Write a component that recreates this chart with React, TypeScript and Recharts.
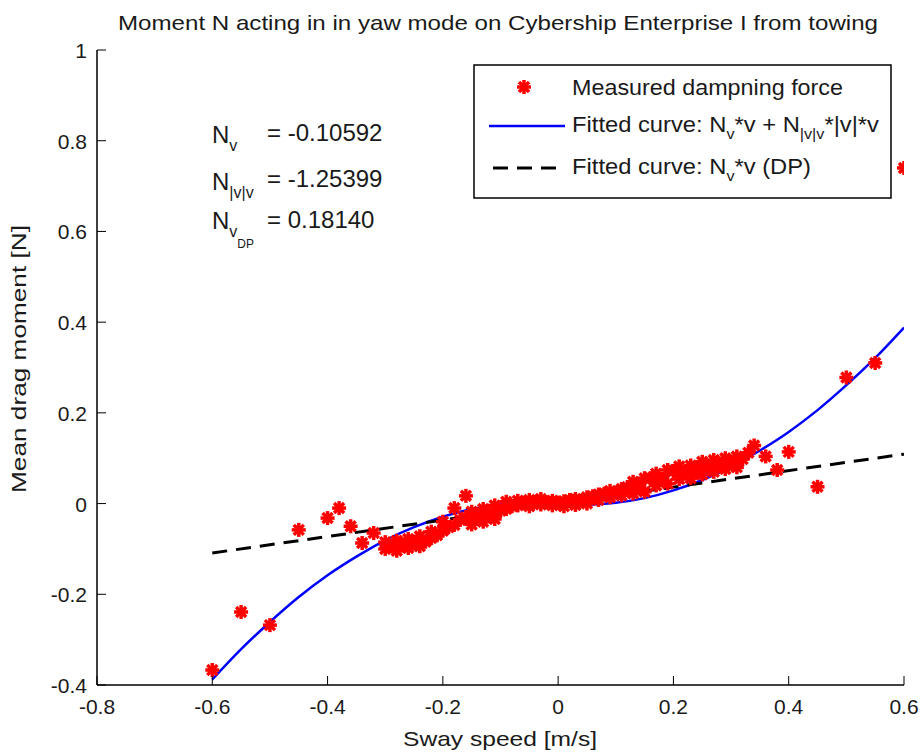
import { ComposedChart, Line, Scatter, XAxis, YAxis } from 'recharts';

const X_TICKS = [-0.8, -0.6, -0.4, -0.2, 0, 0.2, 0.4, 0.6];
const Y_TICKS = [-0.4, -0.2, 0, 0.2, 0.4, 0.6, 0.8, 1];

// sway speed [m/s], mean drag moment [N]
const measured: [number, number][] = [
  [-0.6, -0.367], [-0.55, -0.239], [-0.5, -0.268], [-0.45, -0.058],
  [-0.4, -0.032], [-0.38, -0.01], [-0.36, -0.05], [-0.34, -0.087],
  [-0.32, -0.065], [-0.3, -0.1], [-0.3, -0.085], [-0.29, -0.094],
  [-0.28, -0.104], [-0.28, -0.082], [-0.27, -0.092], [-0.26, -0.098],
  [-0.26, -0.078], [-0.25, -0.088], [-0.24, -0.094], [-0.24, -0.072],
  [-0.23, -0.084], [-0.22, -0.076], [-0.22, -0.062], [-0.21, -0.07],
  [-0.2, -0.06], [-0.2, -0.04], [-0.19, -0.052], [-0.18, -0.047],
  [-0.18, -0.01], [-0.17, -0.036], [-0.16, 0.017], [-0.16, -0.03],
  [-0.15, -0.046], [-0.15, -0.018], [-0.14, -0.028], [-0.13, -0.04],
  [-0.13, -0.012], [-0.12, -0.024], [-0.11, -0.034], [-0.11, -0.004],
  [-0.1, -0.016], [-0.09, -0.012], [-0.09, 0.004], [-0.08, -0.006],
  [-0.07, 0.006], [-0.07, -0.004], [-0.06, 0.002], [-0.05, 0.008],
  [-0.05, -0.006], [-0.04, 0.004], [-0.03, -0.002], [-0.03, 0.01],
  [-0.02, 0.003], [-0.01, 0.006], [-0.01, -0.004], [0, 0.002],
  [0.01, 0.005], [0.01, -0.006], [0.02, 0.008], [0.03, -0.003],
  [0.03, 0.01], [0.04, 0.006], [0.05, 0.014], [0.05, 0],
  [0.06, 0.016], [0.07, 0.008], [0.07, 0.02], [0.08, 0.022],
  [0.09, 0.014], [0.09, 0.028], [0.1, 0.024], [0.11, 0.032],
  [0.11, 0.018], [0.12, 0.036], [0.13, 0.022], [0.13, 0.048],
  [0.14, 0.038], [0.15, 0.056], [0.15, 0.026], [0.16, 0.056],
  [0.17, 0.04], [0.17, 0.066], [0.18, 0.054], [0.19, 0.074],
  [0.19, 0.044], [0.2, 0.072], [0.21, 0.054], [0.21, 0.082],
  [0.22, 0.068], [0.23, 0.084], [0.23, 0.056], [0.24, 0.074],
  [0.25, 0.092], [0.25, 0.064], [0.26, 0.08], [0.27, 0.07],
  [0.27, 0.096], [0.28, 0.086], [0.29, 0.076], [0.29, 0.1],
  [0.3, 0.092], [0.31, 0.104], [0.31, 0.08], [0.32, 0.098],
  [0.33, 0.112], [0.34, 0.128], [0.36, 0.104], [0.38, 0.074],
  [0.4, 0.114], [0.45, 0.037], [0.5, 0.278], [0.55, 0.31],
  [0.6, 0.74],
];

// fitted Nv*v + N|v|v*|v|*v curve
const fitSpeed = [
  -0.6, -0.55, -0.5, -0.45, -0.4, -0.35, -0.3, -0.25, -0.2, -0.15, -0.1, -0.05, 0,
  0.05, 0.1, 0.15, 0.2, 0.25, 0.3, 0.35, 0.4, 0.45, 0.5, 0.55, 0.6,
];
const fitMoment = [
  -0.388, -0.321, -0.261, -0.206, -0.158, -0.117, -0.081, -0.052, -0.029, -0.012, -0.002, 0.002, 0,
  -0.002, 0.002, 0.012, 0.029, 0.052, 0.081, 0.117, 0.158, 0.206, 0.261, 0.321, 0.388,
];

// linear DP fit
const dpSpeed = [-0.6, 0.6];
const dpMoment = [-0.109, 0.109];

const coeffs = ['= -0.10592', '= -1.25399', '= 0.18140'];

const measuredData = measured.map(([x, y]) => ({ x, y }));
const fitData = fitSpeed.map((x, i) => ({ x, y: fitMoment[i] }));
const dpData = dpSpeed.map((x, i) => ({ x, y: dpMoment[i] }));

const FONT = '"Liberation Sans", Arial, sans-serif';
const TEXT = '#1a1a1a';
const TICK = 9;

const Star = ({ cx, cy }: any) => (
  <g stroke="#ff0000" strokeWidth={3.5}>
    <line x1={cx - 7} y1={cy} x2={cx + 7} y2={cy} />
    <line x1={cx} y1={cy - 7} x2={cx} y2={cy + 7} />
    <line x1={cx - 5} y1={cy - 5} x2={cx + 5} y2={cy + 5} />
    <line x1={cx - 5} y1={cy + 5} x2={cx + 5} y2={cy - 5} />
  </g>
);

const BottomTick = ({ x, y, payload }: any) => (
  <g>
    <line x1={x} y1={y} x2={x} y2={y - TICK} stroke="#000" />
    <text x={x} y={y + 29} textAnchor="middle" fontSize={21} fontFamily={FONT} fill={TEXT}>
      {String(payload.value)}
    </text>
  </g>
);

const LeftTick = ({ x, y, payload }: any) => (
  <g>
    <line x1={x} y1={y} x2={x + TICK} y2={y} stroke="#000" />
    <text x={x - 10} y={y + 8} textAnchor="end" fontSize={21} fontFamily={FONT} fill={TEXT}>
      {String(payload.value)}
    </text>
  </g>
);

const TopTick = ({ x, y }: any) => <line x1={x} y1={y} x2={x} y2={y + TICK} stroke="#000" />;
const RightTick = ({ x, y }: any) => <line x1={x} y1={y} x2={x - TICK} y2={y} stroke="#000" />;

const Sub = ({ children, size = 15, dy = 7 }: any) => (
  <tspan fontSize={size} dy={dy}>
    {children}
  </tspan>
);

export default function App() {
  return (
    <div style={{ position: 'absolute', left: 0, top: 0, width: 922, height: 756, background: '#fff' }}>
      <ComposedChart
        width={922}
        height={756}
        margin={{ top: 50, right: 18, bottom: 41, left: 37 }}
      >
        <XAxis
          dataKey="x"
          type="number"
          domain={[-0.8, 0.6]}
          ticks={X_TICKS}
          interval={0}
          height={30}
          tickSize={0}
          tickMargin={0}
          tick={BottomTick}
          axisLine={{ stroke: '#000', strokeWidth: 1.5 }}
          allowDataOverflow
        />
        <XAxis
          xAxisId="top"
          orientation="top"
          dataKey="x"
          type="number"
          domain={[-0.8, 0.6]}
          ticks={X_TICKS}
          interval={0}
          height={0}
          tickSize={0}
          tickMargin={0}
          tick={TopTick}
          axisLine={{ stroke: '#000', strokeWidth: 1.5 }}
          allowDataOverflow
        />
        <YAxis
          type="number"
          domain={[-0.4, 1]}
          ticks={Y_TICKS}
          interval={0}
          width={60}
          tickSize={0}
          tickMargin={0}
          tick={LeftTick}
          axisLine={{ stroke: '#000', strokeWidth: 1.5 }}
          allowDataOverflow
        />
        <YAxis
          yAxisId="right"
          orientation="right"
          type="number"
          domain={[-0.4, 1]}
          ticks={Y_TICKS}
          interval={0}
          width={0}
          tickSize={0}
          tickMargin={0}
          tick={RightTick}
          axisLine={{ stroke: '#000', strokeWidth: 1.5 }}
          allowDataOverflow
        />
        <Scatter data={measuredData} dataKey="y" shape={Star} isAnimationActive={false} />
        <Line
          data={fitData}
          dataKey="y"
          type="monotone"
          stroke="#0000ff"
          strokeWidth={2.5}
          dot={false}
          isAnimationActive={false}
        />
        <Line
          data={dpData}
          dataKey="y"
          type="linear"
          stroke="#000"
          strokeWidth={3}
          strokeDasharray="15 9"
          dot={false}
          isAnimationActive={false}
        />
      </ComposedChart>

      <svg
        width={922}
        height={756}
        style={{ position: 'absolute', left: 0, top: 0, pointerEvents: 'none' }}
        fontFamily={FONT}
        fill={TEXT}
      >
        <text x={498} y={30} textAnchor="middle" fontSize={21} textLength={760} lengthAdjust="spacingAndGlyphs">
          Moment N acting in in yaw mode on Cybership Enterprise I from towing
        </text>
        <text x={500} y={746} textAnchor="middle" fontSize={21} textLength={194} lengthAdjust="spacingAndGlyphs">
          Sway speed [m/s]
        </text>
        <text
          transform="translate(26 359) rotate(-90)"
          textAnchor="middle"
          fontSize={21}
          textLength={268}
          lengthAdjust="spacingAndGlyphs"
        >
          Mean drag moment [N]
        </text>

        {/* coefficient annotation */}
        <g fontSize={24}>
          <text x={212} y={143}>
            N<Sub size={16} dy={8}>v</Sub>
          </text>
          <text x={212} y={190}>
            N<Sub size={16} dy={8}>|v|v</Sub>
          </text>
          <text x={212} y={229}>
            N<Sub size={16} dy={8}>v</Sub>
            <tspan fontSize={12} dy={11}>DP</tspan>
          </text>
          {coeffs.map((c, i) => (
            <text key={c} x={267} y={[141, 187, 228][i]}>
              {c}
            </text>
          ))}
        </g>

        {/* legend */}
        <rect x={474} y={65} width={417} height={133} fill="#fff" stroke="#000" strokeWidth={1.5} />
        <Star cx={524} cy={87} />
        <text x={572} y={95} fontSize={22} textLength={271} lengthAdjust="spacingAndGlyphs">
          Measured dampning force
        </text>
        <line x1={489} y1={126} x2={565} y2={126} stroke="#0000ff" strokeWidth={2.5} />
        <text x={572} y={132} fontSize={22} textLength={307} lengthAdjust="spacingAndGlyphs">
          Fitted curve: N<Sub>v</Sub>
          <tspan dy={-7}>*v + N</tspan>
          <Sub>|v|v</Sub>
          <tspan dy={-7}>*|v|*v</tspan>
        </text>
        <line x1={493} y1={168} x2={565} y2={168} stroke="#000" strokeWidth={3} strokeDasharray="15 9" />
        <text x={572} y={174} fontSize={22} textLength={239} lengthAdjust="spacingAndGlyphs">
          Fitted curve: N<Sub>v</Sub>
          <tspan dy={-7}>*v (DP)</tspan>
        </text>
      </svg>
    </div>
  );
}
